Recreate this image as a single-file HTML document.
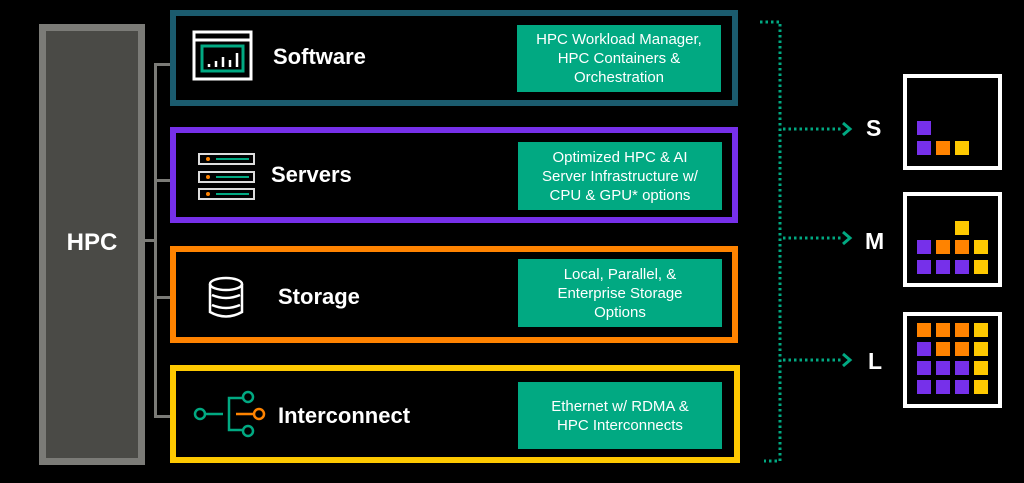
<!DOCTYPE html>
<html><head><meta charset="utf-8"><style>
body{margin:0;background:#000;width:1024px;height:483px;overflow:hidden;font-family:"Liberation Sans",sans-serif;position:relative}
.a{position:absolute;box-sizing:border-box}
.box{border:6px solid;background:#000}
.t{color:#fff;font-weight:bold;font-size:22px}
.g{background:#01a982;color:#fff;font-size:15px;line-height:19px;text-align:center;display:flex;align-items:center;justify-content:center}
.sq{position:absolute;width:14px;height:14px}
.p{background:#7630ea}.o{background:#ff8300}.y{background:#fec901}
.w{border:4px solid #fff}
</style></head><body>
<div class="a" style="left:39px;top:24px;width:106px;height:441px;background:#4a4a46;border:7px solid #7b7b77"></div>
<div class="a t" style="left:39px;top:229px;width:106px;text-align:center;font-size:24px">HPC</div>
<div class="a" style="left:145px;top:239px;width:12px;height:3px;background:#7b7b77"></div>
<div class="a" style="left:154px;top:63px;width:3px;height:355px;background:#7b7b77"></div>
<div class="a" style="left:154px;top:63px;width:17px;height:3px;background:#7b7b77"></div>
<div class="a" style="left:154px;top:179px;width:17px;height:3px;background:#7b7b77"></div>
<div class="a" style="left:154px;top:296px;width:17px;height:3px;background:#7b7b77"></div>
<div class="a" style="left:154px;top:415px;width:17px;height:3px;background:#7b7b77"></div>

<div class="a box" style="left:170px;top:10px;width:568px;height:96px;border-color:#1b5b6e"></div>
<div class="a box" style="left:170px;top:127px;width:568px;height:96px;border-color:#7630ea"></div>
<div class="a box" style="left:170px;top:246px;width:568px;height:97px;border-color:#ff8300"></div>
<div class="a box" style="left:170px;top:365px;width:570px;height:98px;border-color:#fec901"></div>

<div class="a t" style="left:273px;top:44px">Software</div>
<div class="a t" style="left:271px;top:162px">Servers</div>
<div class="a t" style="left:278px;top:284px">Storage</div>
<div class="a t" style="left:278px;top:403px">Interconnect</div>

<div class="a g" style="left:517px;top:25px;width:204px;height:67px">HPC Workload Manager,<br>HPC Containers &amp;<br>Orchestration</div>
<div class="a g" style="left:518px;top:142px;width:204px;height:68px">Optimized HPC &amp; AI<br>Server Infrastructure w/<br>CPU &amp; GPU* options</div>
<div class="a g" style="left:518px;top:259px;width:204px;height:68px">Local, Parallel, &amp;<br>Enterprise Storage<br>Options</div>
<div class="a g" style="left:518px;top:382px;width:204px;height:67px">Ethernet w/ RDMA &amp;<br>HPC Interconnects</div>

<svg class="a" style="left:0;top:0" width="1024" height="483">
<rect x="194" y="32" width="57" height="47" fill="none" stroke="#fff" stroke-width="3"/>
<line x1="194" y1="40" x2="251" y2="40" stroke="#fff" stroke-width="3"/>
<rect x="202" y="46" width="41" height="25" fill="none" stroke="#01a982" stroke-width="3"/>
<g stroke="#fff" stroke-width="2.5"><line x1="209" y1="64" x2="209" y2="67"/><line x1="216" y1="61" x2="216" y2="67"/><line x1="223" y1="57" x2="223" y2="67"/><line x1="230" y1="60" x2="230" y2="67"/><line x1="237" y1="53" x2="237" y2="67"/></g>
<g fill="none" stroke="#ddd" stroke-width="2"><rect x="199" y="154" width="55" height="10"/><rect x="199" y="172" width="55" height="10"/><rect x="199" y="189" width="55" height="10"/></g>
<g fill="#ff8300"><circle cx="208" cy="159" r="2"/><circle cx="208" cy="177" r="2"/><circle cx="208" cy="194" r="2"/></g>
<g stroke="#01a982" stroke-width="2"><line x1="216" y1="159" x2="249" y2="159"/><line x1="216" y1="177" x2="249" y2="177"/><line x1="216" y1="194" x2="249" y2="194"/></g>
<g fill="none" stroke="#fff" stroke-width="2.5"><ellipse cx="226" cy="284" rx="16" ry="6"/><path d="M210 284 V312 Q226 321 242 312 V284"/><path d="M212 295 Q226 301 240 295"/><path d="M212 305 Q226 311 240 305"/></g>
<g fill="none" stroke-width="2.5"><circle cx="200" cy="414" r="5" stroke="#01a982"/><line x1="205" y1="414" x2="223" y2="414" stroke="#01a982"/><path d="M244 398 H229 V430 H244" stroke="#01a982"/><circle cx="248" cy="397" r="5" stroke="#01a982"/><circle cx="248" cy="431" r="5" stroke="#01a982"/><line x1="236" y1="414" x2="254" y2="414" stroke="#ff8300"/><circle cx="259" cy="414" r="5" stroke="#ff8300"/></g>
<g fill="none" stroke="#01a982" stroke-width="3" stroke-dasharray="2.5 3">
<path d="M760 22 H780 V461 H764"/>
<line x1="783" y1="129" x2="842" y2="129"/><line x1="783" y1="238" x2="842" y2="238"/><line x1="783" y1="360" x2="842" y2="360"/>
</g>
<g fill="none" stroke="#01a982" stroke-width="3"><path d="M843 123 L850 129 L843 135"/><path d="M843 232 L850 238 L843 244"/><path d="M843 354 L850 360 L843 366"/></g>
</svg>
<div class="a t" style="left:866px;top:115px;font-size:23px">S</div>
<div class="a t" style="left:865px;top:228px;font-size:23px">M</div>
<div class="a t" style="left:868px;top:348px;font-size:23px">L</div>

<div class="a w" style="left:903px;top:74px;width:99px;height:96px"></div>
<div class="sq p" style="left:917px;top:121px"></div>
<div class="sq p" style="left:917px;top:141px"></div><div class="sq o" style="left:936px;top:141px"></div><div class="sq y" style="left:955px;top:141px"></div>

<div class="a w" style="left:903px;top:192px;width:99px;height:95px"></div>
<div class="sq y" style="left:955px;top:221px"></div>
<div class="sq p" style="left:917px;top:240px"></div><div class="sq o" style="left:936px;top:240px"></div><div class="sq o" style="left:955px;top:240px"></div><div class="sq y" style="left:974px;top:240px"></div>
<div class="sq p" style="left:917px;top:260px"></div><div class="sq p" style="left:936px;top:260px"></div><div class="sq p" style="left:955px;top:260px"></div><div class="sq y" style="left:974px;top:260px"></div>

<div class="a w" style="left:903px;top:312px;width:99px;height:96px"></div>
<div class="sq o" style="left:917px;top:323px"></div><div class="sq o" style="left:936px;top:323px"></div><div class="sq o" style="left:955px;top:323px"></div><div class="sq y" style="left:974px;top:323px"></div>
<div class="sq p" style="left:917px;top:342px"></div><div class="sq o" style="left:936px;top:342px"></div><div class="sq o" style="left:955px;top:342px"></div><div class="sq y" style="left:974px;top:342px"></div>
<div class="sq p" style="left:917px;top:361px"></div><div class="sq p" style="left:936px;top:361px"></div><div class="sq p" style="left:955px;top:361px"></div><div class="sq y" style="left:974px;top:361px"></div>
<div class="sq p" style="left:917px;top:380px"></div><div class="sq p" style="left:936px;top:380px"></div><div class="sq p" style="left:955px;top:380px"></div><div class="sq y" style="left:974px;top:380px"></div>
</body></html>
